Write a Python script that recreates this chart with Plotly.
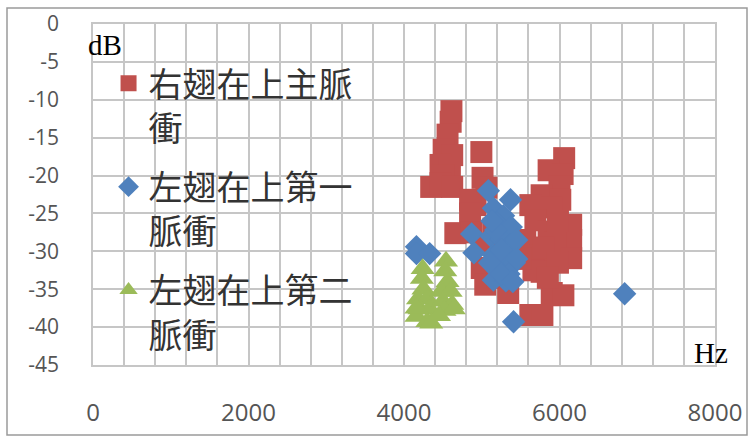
import plotly.graph_objects as go

# ---- data (Hz, dB) ----
red_hz = [4610, 4600, 4560, 4510, 4620, 4470, 4590, 4510, 4350, 4470, 4620,
          4995, 5010, 5060, 4920, 4850, 4850, 4660, 4870,
          5000, 5150, 5300, 5000, 5045, 5200, 5340,
          6060, 5860, 6040, 6000, 5770, 6010, 5900, 5625, 5690, 5860, 6150,
          6150, 5560, 5950, 5750, 6150, 5665, 5770, 5900, 6050, 5625, 5780, 5500,
          5980, 5800, 5980, 5850]
red_db = [-11.5, -12.9, -14.6, -16.6, -17.3, -18.6, -19.0, -20.0, -21.5, -21.0, -21.5,
          -16.9, -20.3, -21.6, -23.9, -23.2, -25.0, -27.6, -27.5,
          -29.0, -27.0, -30.0, -32.2, -34.4, -33.5, -35.5,
          -17.7, -19.3, -19.8, -21.5, -22.6, -23.2, -24.2, -23.9, -25.9, -27.4, -26.5,
          -28.5, -28.5, -28.8, -30.5, -30.9, -32.5, -32.7, -35.5, -35.8, -38.4, -38.4, -31.0,
          -26.0, -29.5, -31.5, -33.5]

blue_hz = [4160, 4160, 4330, 6838, 5409,
           5085, 5370, 5150, 5280, 5200, 5380, 4870, 5120, 5250, 5360, 4900,
           5150, 5300, 5420, 5200, 5350, 5150, 5310, 5250, 5180,
           5450, 5450, 5130, 5100, 5250, 5400]
blue_db = [-29.4, -30.3, -30.3, -35.6, -39.3,
           -22.0, -23.2, -24.3, -25.3, -26.3, -26.8, -27.7, -28.0, -28.4, -29.2, -30.2,
           -30.5, -31.0, -31.5, -32.5, -33.0, -33.8, -33.9, -29.8, -27.2,
           -28.5, -31.0, -26.0, -31.5, -33.0, -34.0]

green_hz = [4240, 4230, 4250, 4180, 4300, 4200, 4330, 4160, 4300, 4350, 4160,
            4540, 4530, 4560, 4480, 4600, 4500, 4620, 4520, 4640, 4450]
green_db = [-32.3, -33.6, -35.0, -36.3, -36.3, -37.6, -37.6, -38.6, -39.3, -39.5, -37.5,
            -31.3, -32.6, -34.0, -35.3, -35.3, -36.6, -37.0, -37.8, -37.6, -38.5]

names = ["右翅在上主脈<br>衝", "左翅在上第一<br>脈衝", "左翅在上第二<br>脈衝"]
x_ticks = [0, 2000, 4000, 6000, 8000]
y_ticks = [0, -5, -10, -15, -20, -25, -30, -35, -40, -45]

RED, BLUE, GREEN = "#C0504D", "#4F81BD", "#9BBB59"
GRID = "#c6c6c6"

fig = go.Figure()
fig.add_trace(go.Scatter(x=red_hz, y=red_db, mode="markers", name=names[0],
                         legendgroup="a",
                         marker=dict(symbol="square", size=22, color=RED)))
fig.add_trace(go.Scatter(x=blue_hz, y=blue_db, mode="markers", name=names[1],
                         legendgroup="b",
                         marker=dict(symbol="diamond", size=18, color=BLUE)))
fig.add_trace(go.Scatter(x=green_hz, y=green_db, mode="markers", name=names[2],
                         legendgroup="c",
                         marker=dict(symbol="triangle-up", size=21, color=GREEN)))

fig.update_layout(
    width=748, height=437,
    margin=dict(l=93, r=33, t=24, b=72, autoexpand=False),
    paper_bgcolor="white", plot_bgcolor="white",
    showlegend=True,
    legend=dict(x=0.025, y=0.91, xanchor="left", yanchor="top",
                bgcolor="rgba(0,0,0,0)", valign="top", tracegroupgap=12,
                font=dict(family="Noto Sans CJK TC", size=34, color="#333333")),
    xaxis=dict(range=[0, 8000], tickvals=x_ticks, ticktext=[str(v) for v in x_ticks],
               showgrid=True, gridcolor=GRID, gridwidth=1.5, zeroline=False,
               showline=True, linecolor=GRID, linewidth=1.5, mirror=True,
               minor=dict(dtick=400, showgrid=True, gridcolor=GRID, gridwidth=1.5),
               ticks="", ticklabelstandoff=25, automargin=False,
               tickfont=dict(family="Open Sans", size=24, color="#555555")),
    yaxis=dict(range=[-45, 0], tickvals=y_ticks, ticktext=[str(v) for v in y_ticks],
               showgrid=True, gridcolor=GRID, gridwidth=1.5, zeroline=False,
               showline=True, linecolor=GRID, linewidth=1.5, mirror=True,
               ticks="", ticklabelstandoff=28, automargin=False,
               tickfont=dict(family="Open Sans", size=21, color="#555555")),
    annotations=[
        dict(text="dB", xref="paper", yref="paper", x=(105 - 93) / 622, y=(365 - 45) / 341,
             xanchor="center", yanchor="middle",
             showarrow=False, font=dict(family="Liberation Serif", size=29, color="black")),
        dict(text="Hz", xref="paper", yref="paper", x=(711 - 93) / 622, y=(365 - 353) / 341,
             xanchor="center", yanchor="middle",
             showarrow=False, font=dict(family="Liberation Serif", size=29, color="black")),
    ],
    shapes=[dict(type="rect", xref="paper", yref="paper",
                 x0=(7 - 93) / 622, x1=(747 - 93) / 622,
                 y0=(365 - 435) / 341, y1=(365 - 8) / 341,
                 line=dict(color="#9a9a9a", width=1.5), layer="below")],
)

fig.write_html("out.html", config={"displayModeBar": False},
               post_script="document.body.style.margin='0';document.body.style.overflow='hidden';")
